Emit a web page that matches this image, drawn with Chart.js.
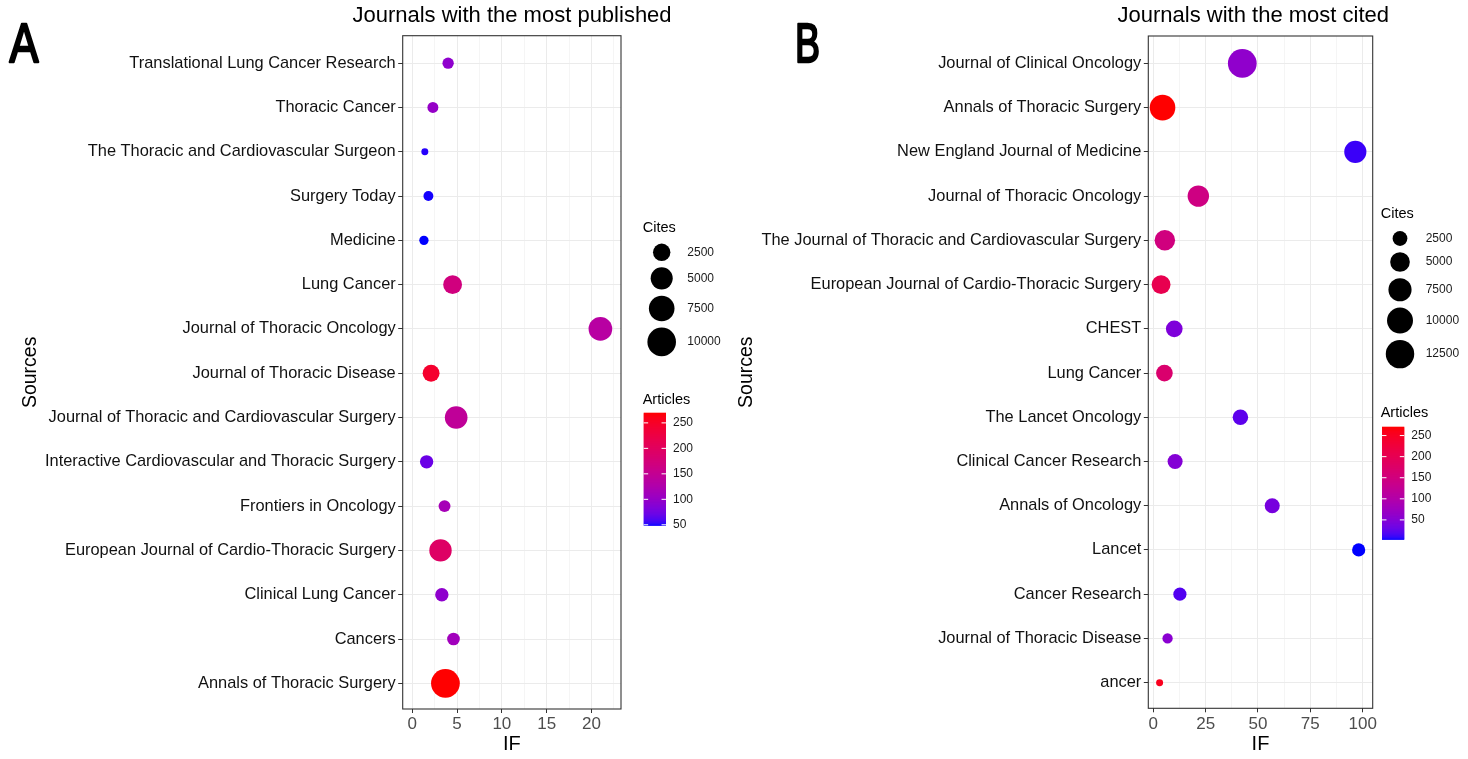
<!DOCTYPE html>
<html>
<head>
<meta charset="utf-8">
<title>Journals with the most published / most cited</title>
<script src="https://cdn.jsdelivr.net/npm/chart.js@4.4.1/dist/chart.umd.min.js"></script>
<style>
  html, body { margin: 0; padding: 0; background: #fff; }
  #wrap { position: relative; width: 1468px; height: 759px; overflow: hidden; }
  canvas { position: absolute; top: 0; }
  #chartA { left: 0; }
  #chartB { left: 734px; }
</style>
</head>
<body>
<div id="wrap">
  <canvas id="chartA" width="734" height="759"></canvas>
  <canvas id="chartB" width="734" height="759"></canvas>
</div>
<script>
// Panel A - journals with the most published papers (listed top to bottom)
const sourcesA = [
  'Translational Lung Cancer Research',
  'Thoracic Cancer',
  'The Thoracic and Cardiovascular Surgeon',
  'Surgery Today',
  'Medicine',
  'Lung Cancer',
  'Journal of Thoracic Oncology',
  'Journal of Thoracic Disease',
  'Journal of Thoracic and Cardiovascular Surgery',
  'Interactive Cardiovascular and Thoracic Surgery',
  'Frontiers in Oncology',
  'European Journal of Cardio-Thoracic Surgery',
  'Clinical Lung Cancer',
  'Cancers',
  'Annals of Thoracic Surgery'
];
const ifA       = [4.0, 2.3, 1.4, 1.8, 1.3, 4.5, 21.0, 2.1, 4.9, 1.6, 3.6, 3.15, 3.3, 4.6, 3.7];
const citesA    = [630, 560, 230, 410, 340, 3160, 6040, 2280, 5380, 1080, 750, 5200, 1080, 910, 10150];
const articlesA = [95, 100, 52, 50, 49, 170, 135, 245, 145, 72, 115, 195, 95, 110, 270];

// Panel B - journals with the most citations (listed top to bottom)
const sourcesB = [
  'Journal of Clinical Oncology',
  'Annals of Thoracic Surgery',
  'New England Journal of Medicine',
  'Journal of Thoracic Oncology',
  'The Journal of Thoracic and Cardiovascular Surgery',
  'European Journal of Cardio-Thoracic Surgery',
  'CHEST',
  'Lung Cancer',
  'The Lancet Oncology',
  'Clinical Cancer Research',
  'Annals of Oncology',
  'Lancet',
  'Cancer Research',
  'Journal of Thoracic Disease',
  'ancer'
];
const ifB       = [42.5, 4.4, 96.5, 21.5, 5.5, 3.7, 10.0, 5.3, 41.6, 10.4, 56.8, 98.1, 12.7, 6.8, 3.0];
const citesB    = [12800, 9600, 6720, 6220, 5560, 4530, 3350, 3350, 2790, 2620, 2620, 1950, 1950, 1270, 1000];
const articlesB = [60, 271, 12, 145, 150, 205, 45, 170, 25, 50, 40, 4, 20, 55, 255];

// legend breaks and axis ticks
const citeBreaksA   = [2500, 5000, 7500, 10000];
const citeBreaksB   = [2500, 5000, 7500, 10000, 12500];
const articleBreaks = [50, 100, 150, 200, 250];
const ifTicksA      = [0, 5, 10, 15, 20];
const ifTicksB      = [0, 25, 50, 75, 100];

const FONT = "'Liberation Sans', Arial, Helvetica, sans-serif";

// blue -> red gradient interpolated in Lab space (like ggplot's scale_colour_gradient)
function toLinear(c) { c /= 255; return c <= 0.04045 ? c / 12.92 : Math.pow((c + 0.055) / 1.055, 2.4); }
function toSrgb(c) {
  const v = c <= 0.0031308 ? 12.92 * c : 1.055 * Math.pow(c, 1 / 2.4) - 0.055;
  return Math.round(Math.max(0, Math.min(1, v)) * 255);
}
function rgbToLab(rgb) {
  const R = toLinear(rgb[0]), G = toLinear(rgb[1]), B = toLinear(rgb[2]);
  const X = (0.4124564 * R + 0.3575761 * G + 0.1804375 * B) / 0.95047;
  const Y = (0.2126729 * R + 0.7151522 * G + 0.0721750 * B);
  const Z = (0.0193339 * R + 0.1191920 * G + 0.9503041 * B) / 1.08883;
  const f = t => t > 0.008856 ? Math.cbrt(t) : 7.787 * t + 16 / 116;
  const fx = f(X), fy = f(Y), fz = f(Z);
  return [116 * fy - 16, 500 * (fx - fy), 200 * (fy - fz)];
}
function labToRgb(lab) {
  const fy = (lab[0] + 16) / 116, fx = fy + lab[1] / 500, fz = fy - lab[2] / 200;
  const inv = t => t * t * t > 0.008856 ? t * t * t : (t - 16 / 116) / 7.787;
  const X = inv(fx) * 0.95047, Y = inv(fy), Z = inv(fz) * 1.08883;
  const R =  3.2404542 * X - 1.5371385 * Y - 0.4985314 * Z;
  const G = -0.9692660 * X + 1.8760108 * Y + 0.0415560 * Z;
  const B =  0.0556434 * X - 0.2040259 * Y + 1.0572252 * Z;
  return [toSrgb(R), toSrgb(G), toSrgb(B)];
}
const LOW = rgbToLab([0, 0, 255]);
const HIGH = rgbToLab([255, 0, 0]);
function gradient(t) {
  t = Math.max(0, Math.min(1, t));
  const lab = [0, 1, 2].map(k => LOW[k] + (HIGH[k] - LOW[k]) * t);
  const c = labToRgb(lab);
  return 'rgb(' + c[0] + ',' + c[1] + ',' + c[2] + ')';
}

function makePanel(opts) {
  const W = 734, H = 759;
  const n = opts.sources.length;
  const cMin = Math.min(...opts.cites), cMax = Math.max(...opts.cites);
  const aMin = Math.min(...opts.articles), aMax = Math.max(...opts.articles);

  // ggplot-like area scale: size 1..6, point diameter in px
  const diameter = v => opts.sizeK * (2.845 * (1 + 5 * Math.sqrt(Math.max(0, (v - cMin) / (cMax - cMin)))) + 0.94) + 1.2;
  const colorFor = v => gradient((v - aMin) / (aMax - aMin));

  const points = opts.sources.map((s, i) => ({ x: opts.ifs[i], y: i, r: diameter(opts.cites[i]) / 2 }));
  const colors = opts.articles.map(colorFor);

  // major + minor vertical grid values
  const step = opts.ticks[1] - opts.ticks[0];
  const gridValues = [];
  for (let v = opts.ticks[0]; v <= opts.xMax; v += step / 2) gridValues.push(v);
  const isMajor = v => opts.ticks.indexOf(v) !== -1;

  const decor = {
    id: 'decor',
    afterDraw(chart) {
      const ctx = chart.ctx;
      const a = chart.chartArea;
      ctx.save();

      // panel border
      ctx.strokeStyle = '#333333';
      ctx.lineWidth = 1.1;
      ctx.strokeRect(a.left, a.top, a.right - a.left, a.bottom - a.top);

      // plot title
      ctx.fillStyle = '#000';
      ctx.font = '22px ' + FONT;
      ctx.textAlign = 'center';
      ctx.textBaseline = 'middle';
      ctx.fillText(opts.title, opts.titleX, 16);

      // panel letter, fitted to the reference width
      ctx.font = '55px ' + FONT;
      ctx.textAlign = 'left';
      ctx.textBaseline = 'alphabetic';
      const lw = ctx.measureText(opts.letter).width;
      ctx.save();
      ctx.translate(opts.letterX + 1, 62);
      ctx.scale(opts.letterW / lw, 1);
      ctx.lineWidth = 2.4;
      ctx.lineJoin = 'round';
      ctx.strokeStyle = '#000';
      ctx.strokeText(opts.letter, 0, 0);
      ctx.fillText(opts.letter, 0, 0);
      ctx.restore();

      // size legend (Cites)
      const L = opts.legend;
      ctx.fillStyle = '#000';
      ctx.font = '14.5px ' + FONT;
      ctx.textBaseline = 'middle';
      ctx.fillText('Cites', L.titleX, L.citesTitleY);
      ctx.font = '12px ' + FONT;
      let y = L.firstKeyY, prev = null;
      opts.citeBreaks.forEach(b => {
        const d = diameter(b);
        if (prev !== null) y += (prev + d) / 2 + 6.3;
        ctx.fillStyle = '#000';
        ctx.beginPath();
        ctx.arc(L.keyX, y, d / 2, 0, Math.PI * 2);
        ctx.fill();
        ctx.fillStyle = '#1a1a1a';
        ctx.fillText(String(b), L.labelX, y);
        prev = d;
      });

      // colour bar (Articles)
      ctx.fillStyle = '#000';
      ctx.font = '14.5px ' + FONT;
      ctx.fillText('Articles', L.titleX, L.articlesTitleY);
      const bx = L.barX, bw = L.barW, bt = L.barTop, bb = L.barBottom;
      const nb = Math.round(bb - bt);
      for (let k = 0; k < nb; k++) {
        const t = 1 - (k + 0.5) / nb;
        ctx.fillStyle = gradient(t);
        ctx.fillRect(bx, bt + k * (bb - bt) / nb, bw, (bb - bt) / nb + 0.6);
      }
      ctx.font = '12px ' + FONT;
      articleBreaks.forEach(b => {
        const yy = bb - (b - aMin) / (aMax - aMin) * (bb - bt);
        ctx.strokeStyle = '#ffffff';
        ctx.lineWidth = 1;
        ctx.beginPath();
        ctx.moveTo(bx, yy); ctx.lineTo(bx + bw / 5, yy);
        ctx.moveTo(bx + bw, yy); ctx.lineTo(bx + bw - bw / 5, yy);
        ctx.stroke();
        ctx.fillStyle = '#1a1a1a';
        ctx.fillText(String(b), bx + bw + 7, yy);
      });
      ctx.restore();
    }
  };

  return new Chart(document.getElementById(opts.canvas), {
    type: 'bubble',
    data: {
      datasets: [{
        data: points,
        backgroundColor: colors,
        borderWidth: 0,
        hoverBorderWidth: 0,
        hoverRadius: 0,
        clip: false
      }]
    },
    options: {
      responsive: false,
      animation: false,
      events: [],
      layout: { padding: { left: 0, top: opts.plotTop, right: W - opts.plotRight, bottom: 0 } },
      plugins: { legend: { display: false }, tooltip: { enabled: false }, title: { display: false } },
      scales: {
        x: {
          type: 'linear',
          min: opts.xMin,
          max: opts.xMax,
          afterBuildTicks: s => { s.ticks = gridValues.map(v => ({ value: v })); },
          afterFit: s => { s.height = H - opts.plotBottom; },
          ticks: {
            autoSkip: false,
            maxRotation: 0,
            padding: 1.5,
            color: '#4d4d4d',
            font: { family: FONT, size: 17 },
            callback: v => (isMajor(v) ? String(v) : '')
          },
          grid: {
            color: '#ebebeb',
            lineWidth: c => (c.tick && isMajor(c.tick.value) ? 1 : 0.5),
            tickColor: c => (c.tick && isMajor(c.tick.value) ? '#333333' : 'rgba(0,0,0,0)'),
            tickWidth: 1,
            tickLength: 4
          },
          border: { display: false },
          title: { display: true, text: 'IF', color: '#000', font: { family: FONT, size: 20 }, padding: { top: 0, bottom: 3 } }
        },
        y: {
          type: 'linear',
          reverse: true,
          min: -0.62,
          max: n - 1 + 0.58,
          afterBuildTicks: s => { s.ticks = opts.sources.map((_, i) => ({ value: i })); },
          afterFit: s => { s.width = opts.plotLeft; },
          ticks: {
            autoSkip: false,
            padding: 2.5,
            color: '#111111',
            font: { family: FONT, size: 16.4 },
            callback: v => opts.sources[v]
          },
          grid: { color: '#ebebeb', lineWidth: 1, tickColor: '#333333', tickWidth: 1, tickLength: 4.5 },
          border: { display: false },
          title: { display: true, text: 'Sources', color: '#000', font: { family: FONT, size: 19.5 }, padding: { top: opts.yTitlePad, bottom: 0 } }
        }
      }
    },
    plugins: [decor]
  });
}

makePanel({
  canvas: 'chartA',
  sources: sourcesA, ifs: ifA, cites: citesA, articles: articlesA,
  citeBreaks: citeBreaksA, ticks: ifTicksA,
  xMin: -1.07, xMax: 23.3,
  plotLeft: 402.7, plotRight: 621, plotTop: 35.7, plotBottom: 709,
  sizeK: 1.53, yTitlePad: 19.3,
  title: 'Journals with the most published', titleX: 512,
  letter: 'A', letterX: 8.5, letterW: 29,
  legend: {
    titleX: 642.7, citesTitleY: 228.3, firstKeyY: 252.3, keyX: 661.7, labelX: 687.3,
    articlesTitleY: 400, barX: 643.7, barW: 22.3, barTop: 412.7, barBottom: 525.3
  }
});

makePanel({
  canvas: 'chartB',
  sources: sourcesB, ifs: ifB, cites: citesB, articles: articlesB,
  citeBreaks: citeBreaksB, ticks: ifTicksB,
  xMin: -2.4, xMax: 104.8,
  plotLeft: 414.3, plotRight: 638.7, plotTop: 36, plotBottom: 708.3,
  sizeK: 1.53, yTitlePad: 1.3,
  title: 'Journals with the most cited', titleX: 519.3,
  letter: 'B', letterX: 60, letterW: 25,
  legend: {
    titleX: 646.7, citesTitleY: 214, firstKeyY: 238.5, keyX: 666, labelX: 691.7,
    articlesTitleY: 413.3, barX: 648, barW: 22.3, barTop: 426.7, barBottom: 539.3
  }
});
</script>
</body>
</html>
